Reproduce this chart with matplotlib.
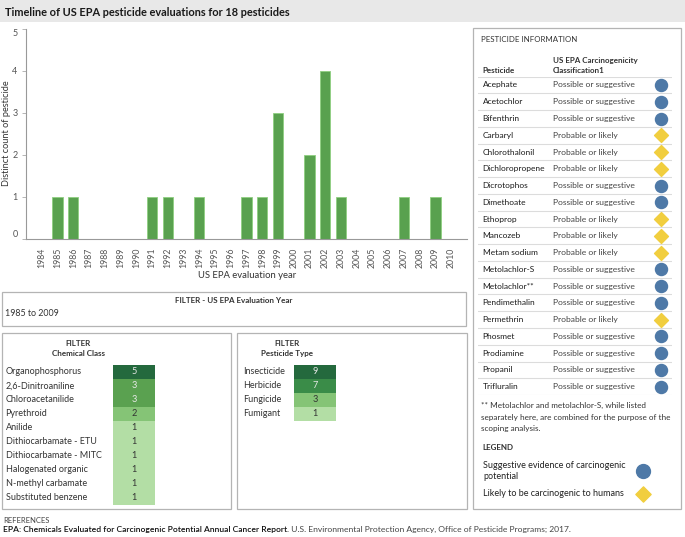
import matplotlib
matplotlib.use("Agg")
import matplotlib.pyplot as plt
from matplotlib.patches import Rectangle
from matplotlib.colors import LinearSegmentedColormap, Normalize

plt.rcParams['font.family'] = ['Lato', 'DejaVu Sans']

# ---------------- data ----------------
years = list(range(1984, 2011))
year_counts = {1985: 1, 1986: 1, 1991: 1, 1992: 1, 1994: 1, 1997: 1, 1998: 1,
               1999: 3, 2001: 2, 2002: 4, 2003: 1, 2007: 1, 2009: 1}
bar_years = list(year_counts.keys())
bar_values = list(year_counts.values())
y_ticks = [0, 1, 2, 3, 4, 5]

chem_classes = ["Organophosphorus", "2,6-Dinitroaniline", "Chloroacetanilide", "Pyrethroid",
                "Anilide", "Dithiocarbamate - ETU", "Dithiocarbamate - MITC",
                "Halogenated organic", "N-methyl carbamate", "Substituted benzene"]
chem_counts = [5, 3, 3, 2, 1, 1, 1, 1, 1, 1]

pest_types = ["Insecticide", "Herbicide", "Fungicide", "Fumigant"]
type_counts = [9, 7, 3, 1]

pesticides = ["Acephate", "Acetochlor", "Bifenthrin", "Carbaryl", "Chlorothalonil",
              "Dichloropropene", "Dicrotophos", "Dimethoate", "Ethoprop", "Mancozeb",
              "Metam sodium", "Metolachlor-S", "Metolachlor**", "Pendimethalin",
              "Permethrin", "Phosmet", "Prodiamine", "Propanil", "Trifluralin"]
classification = ["Possible or suggestive", "Possible or suggestive", "Possible or suggestive",
                  "Probable or likely", "Probable or likely", "Probable or likely",
                  "Possible or suggestive", "Possible or suggestive", "Probable or likely",
                  "Probable or likely", "Probable or likely", "Possible or suggestive",
                  "Possible or suggestive", "Possible or suggestive", "Probable or likely",
                  "Possible or suggestive", "Possible or suggestive", "Possible or suggestive",
                  "Possible or suggestive"]

W, H = 685, 537
fig = plt.figure(figsize=(W / 100, H / 100), dpi=100)
fig.patch.set_facecolor('white')

def fx(x):
    return x / W

def fy(y):
    return 1 - y / H

def ftext(x, y, s, **kw):
    kw.setdefault('va', 'center')
    kw.setdefault('ha', 'left')
    return fig.text(fx(x), fy(y), s, **kw)

def box(x0, y0, x1, y1, fc='none', ec='#b4b4b4', lw=0.9):
    fig.add_artist(Rectangle((fx(x0), fy(y1)), fx(x1) - fx(x0), fy(y0) - fy(y1),
                             transform=fig.transFigure, fc=fc, ec=ec, lw=lw))

# title band
box(0, 0, W, 22, fc='#e8e8e8', ec='none')
ftext(5, 12, "Timeline of US EPA pesticide evaluations for 18 pesticides",
      fontsize=7.9, fontweight='bold', color='#1a1a1a')

# ---------------- main bar chart ----------------
ax = fig.add_axes([fx(26), fy(239), fx(467) - fx(26), fy(29) - fy(239)])
ax.bar(bar_years, bar_values, width=0.64, color='#59a14f', edgecolor='#8fcf80', linewidth=0.6)
ax.set_xlim(1983, 2011)
ax.set_ylim(0, 5)
ax.set_xticks(years)
ax.set_xticklabels([str(y) for y in years], rotation=90, fontsize=6.3, color='#555555')
ax.set_yticks(y_ticks)
ax.set_yticklabels([str(v) for v in y_ticks], fontsize=6.5, color='#555555')
ylabs = ax.get_yticklabels()
ylabs[0].set_va('bottom')
ylabs[-1].set_va('top')
ax.tick_params(axis='x', length=0, pad=6)
ax.tick_params(axis='y', length=3, width=0.6, color='#aaaaaa', pad=3)
for s in ['top', 'right']:
    ax.spines[s].set_visible(False)
ax.spines['left'].set_color('#999999')
ax.spines['bottom'].set_color('#999999')
ax.spines['left'].set_linewidth(0.8)
ax.spines['bottom'].set_linewidth(0.8)
ftext(247, 275, "US EPA evaluation year", fontsize=6.8, color='#333333', ha='center')
ftext(7, 133, "Distinct count of pesticide", fontsize=6.6, color='#333333',
      ha='center', rotation=90)

# ---------------- filter year box ----------------
box(2, 291.5, 466, 326)
ftext(234, 300.5, "FILTER - US EPA Evaluation Year", fontsize=5.8, fontweight='bold',
      color='#333333', ha='center')
ftext(5, 313, "1985 to 2009", fontsize=6.4, color='#333333')

# ---------------- heatmap filters ----------------
cmap = LinearSegmentedColormap.from_list(
    'grn', [(0, '#b3dea5'), (0.25, '#85c476'), (0.5, '#5aa150'), (0.75, '#3a8c48'), (1, '#24693d')])

def heat(labels, counts, subtitle, bx0, bx1, label_x, cell_x0, cell_x1, title_x):
    box(bx0, 333, bx1, 509)
    ftext(title_x, 343, "FILTER", fontsize=5.8, fontweight='bold', color='#333333', ha='center')
    ftext(title_x, 353.5, subtitle, fontsize=5.8, fontweight='bold', color='#333333', ha='center')
    n = len(labels)
    top, rh = 364.7, 14.0
    hax = fig.add_axes([fx(cell_x0), fy(top + n * rh), fx(cell_x1) - fx(cell_x0),
                        fy(top) - fy(top + n * rh)])
    norm = Normalize(vmin=min(counts), vmax=max(counts))
    idx = list(range(n))
    hax.barh(idx, [1] * n, height=1.0, left=0, color=[cmap(norm(c)) for c in counts], linewidth=0)
    hax.set_xlim(0, 1)
    hax.set_ylim(n - 0.5, -0.5)
    hax.axis('off')
    for i, (lab, c) in enumerate(zip(labels, counts)):
        tc = '#e8e8e8' if norm(c) > 0.4 else '#333333'
        hax.text(0.5, i, str(c), ha='center', va='center', fontsize=6.6, color=tc)
        ftext(label_x, top + rh * (i + 0.5), lab, fontsize=6.5, color='#333333')

heat(chem_classes, chem_counts, "Chemical Class", 2, 231, 5.6, 113, 155, 78)
heat(pest_types, type_counts, "Pesticide Type", 237, 467, 242.7, 294, 336, 287)

# ---------------- pesticide information panel ----------------
box(473, 28, 681, 509)
ftext(481, 39.5, "PESTICIDE INFORMATION", fontsize=5.7, color='#333333')
ftext(552.7, 60, "US EPA Carcinogenicity", fontsize=5.8, fontweight='bold', color='#333333')
ftext(552.7, 70.5, "Classification1", fontsize=5.8, fontweight='bold', color='#333333')
ftext(482.7, 70.5, "Pesticide", fontsize=5.8, fontweight='bold', color='#333333')

n = len(pesticides)
top, rh = 76.6, 16.76
tax = fig.add_axes([fx(478), fy(top + n * rh), fx(672) - fx(478), fy(top) - fy(top + n * rh)])
tax.set_xlim(478, 672)
tax.set_ylim(n - 0.5, -0.5)
tax.axis('off')
for i in range(n + 1):
    tax.axhline(i - 0.5, color='#dcdcdc', lw=0.8)
for i, (p, c) in enumerate(zip(pesticides, classification)):
    tax.text(482.7, i, p, fontsize=6.0, color='#1a1a1a', va='center', ha='left')
    tax.text(552.7, i, c, fontsize=6.1, color='#444444', va='center', ha='left')
circ_idx = [i for i, c in enumerate(classification) if c.startswith("Possible")]
diam_idx = [i for i, c in enumerate(classification) if c.startswith("Probable")]
tax.scatter([660.7] * len(circ_idx), circ_idx, s=75, marker='o', color='#4e79a7', zorder=3, clip_on=False)
tax.scatter([660.7] * len(diam_idx), diam_idx, s=50, marker='D', color='#f1ce3f', zorder=3, clip_on=False)

ftext(481, 405.7, "** Metolachlor and metolachlor-S, while listed", fontsize=5.85, color='#333333')
ftext(481, 417.5, "separately here, are combined for the purpose of the", fontsize=5.85, color='#333333')
ftext(481, 429, "scoping analysis.", fontsize=5.85, color='#333333')
ftext(482.7, 448, "LEGEND", fontsize=5.8, fontweight='bold', color='#333333')
ftext(483, 465, "Suggestive evidence of carcinogenic", fontsize=6.45, color='#222222')
ftext(483, 476.7, "potential", fontsize=6.45, color='#222222')
ftext(483, 494, "Likely to be carcinogenic to humans", fontsize=6.45, color='#222222')
lax = fig.add_axes([0, 0, 1, 1], facecolor='none')
lax.set_xlim(0, W)
lax.set_ylim(H, 0)
lax.axis('off')
lax.scatter([643], [471], s=100, marker='o', color='#4e79a7')
lax.scatter([643], [494], s=60, marker='D', color='#f1ce3f')

# ---------------- references ----------------
ftext(3, 520.7, "REFERENCES", fontsize=5.5, color='#444444')
t = ftext(3, 529.7, "EPA: Chemicals Evaluated for Carcinogenic Potential Annual Cancer Report",
          fontsize=6.1, color='#111111', fontweight='semibold')
fig.canvas.draw()
bb = t.get_window_extent()
fig.text(bb.x1 / fig.dpi / fig.get_figwidth(), fy(529.7),
         ". U.S. Environmental Protection Agency, Office of Pesticide Programs; 2017.",
         fontsize=6.1, color='#444444', va='center', ha='left')

fig.savefig("out.png", dpi=100)
